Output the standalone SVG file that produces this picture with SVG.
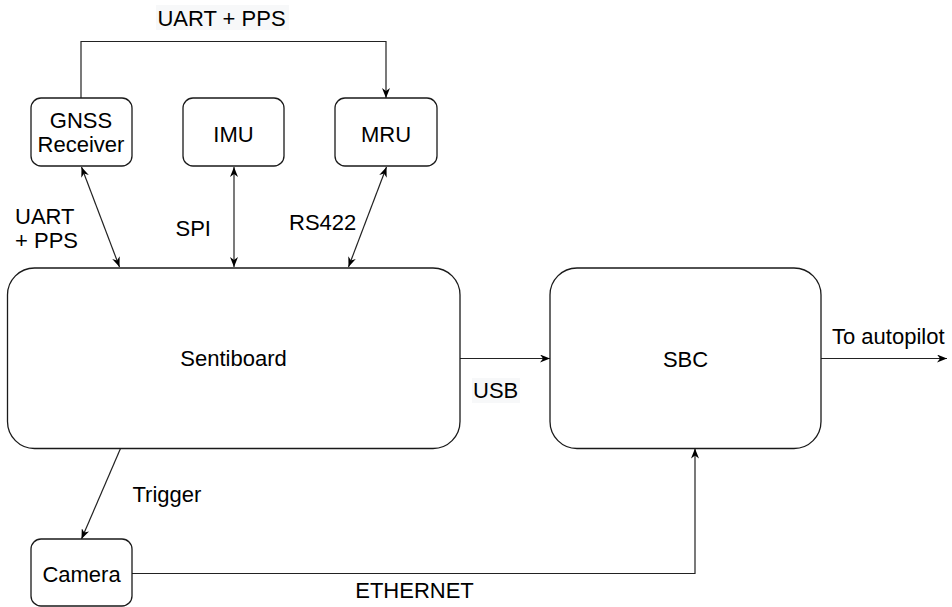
<svg xmlns="http://www.w3.org/2000/svg" width="952" height="607" viewBox="0 0 952 607">
<defs>
<style>
.box{fill:#fff;stroke:#1a1a1a;stroke-width:1.3}
.ln{fill:none;stroke:#222;stroke-width:1.2}
text{font-family:"Liberation Sans",Arial,sans-serif;font-size:22px;fill:#000}
.m{text-anchor:middle}
.lbg{fill:#f7f8f9}
</style>
<marker id="ah" viewBox="0 0 10 8" refX="10" refY="4" markerWidth="10" markerHeight="8" markerUnits="userSpaceOnUse" orient="auto-start-reverse">
<path d="M0,0 L10,4 L0,8 L3,4 Z" fill="#000"/>
</marker>
</defs>
<rect width="952" height="607" fill="#fff"/>
<g id="connectors">
<polyline class="ln" points="81,98 81,41.5 386,41.5 386,98" marker-end="url(#ah)"/>
<line class="ln" x1="81.5" y1="167" x2="119.5" y2="267" marker-start="url(#ah)" marker-end="url(#ah)"/>
<line class="ln" x1="234" y1="167" x2="234" y2="267" marker-start="url(#ah)" marker-end="url(#ah)"/>
<line class="ln" x1="386.5" y1="167" x2="348.5" y2="267" marker-start="url(#ah)" marker-end="url(#ah)"/>
<line class="ln" x1="460" y1="358.5" x2="550" y2="358.5" marker-end="url(#ah)"/>
<line class="ln" x1="821" y1="358.5" x2="947" y2="358.5" marker-end="url(#ah)"/>
<line class="ln" x1="120.5" y1="448.5" x2="81.5" y2="539" marker-end="url(#ah)"/>
<polyline class="ln" points="132,573.5 695,573.5 695,448.5" marker-end="url(#ah)"/>
<rect class="lbg" x="156" y="5" width="133" height="25"/>
<text class="m" x="221.5" y="26">UART + PPS</text>
<text x="15" y="224">UART</text>
<text x="15" y="248">+ PPS</text>
<text x="175.5" y="236">SPI</text>
<text x="289" y="230">RS422</text>
<rect class="lbg" x="472" y="378" width="48" height="25"/>
<text x="473" y="397.5">USB</text>
<text x="832" y="344">To autopilot</text>
<text x="132.5" y="501.5">Trigger</text>
<text class="m" x="414.5" y="598">ETHERNET</text>
</g>
<g id="gnss">
<rect class="box" x="31" y="98" width="101" height="68" rx="10"/>
<text class="m" x="81" y="128">GNSS</text>
<text class="m" x="81" y="152">Receiver</text>
</g>
<g id="imu">
<rect class="box" x="183" y="98" width="101" height="68" rx="10"/>
<text class="m" x="233.5" y="141.5">IMU</text>
</g>
<g id="mru">
<rect class="box" x="335" y="98" width="102" height="68" rx="10"/>
<text class="m" x="386" y="141.5">MRU</text>
</g>
<g id="sentiboard">
<rect class="box" x="7.5" y="268" width="452.5" height="180.5" rx="27"/>
<text class="m" x="233.5" y="366">Sentiboard</text>
</g>
<g id="sbc">
<rect class="box" x="550" y="268" width="271" height="180.5" rx="27"/>
<text class="m" x="685.5" y="366.5">SBC</text>
</g>
<g id="camera">
<rect class="box" x="31" y="539" width="101" height="67" rx="10"/>
<text class="m" x="81.5" y="581.5">Camera</text>
</g>
</svg>
